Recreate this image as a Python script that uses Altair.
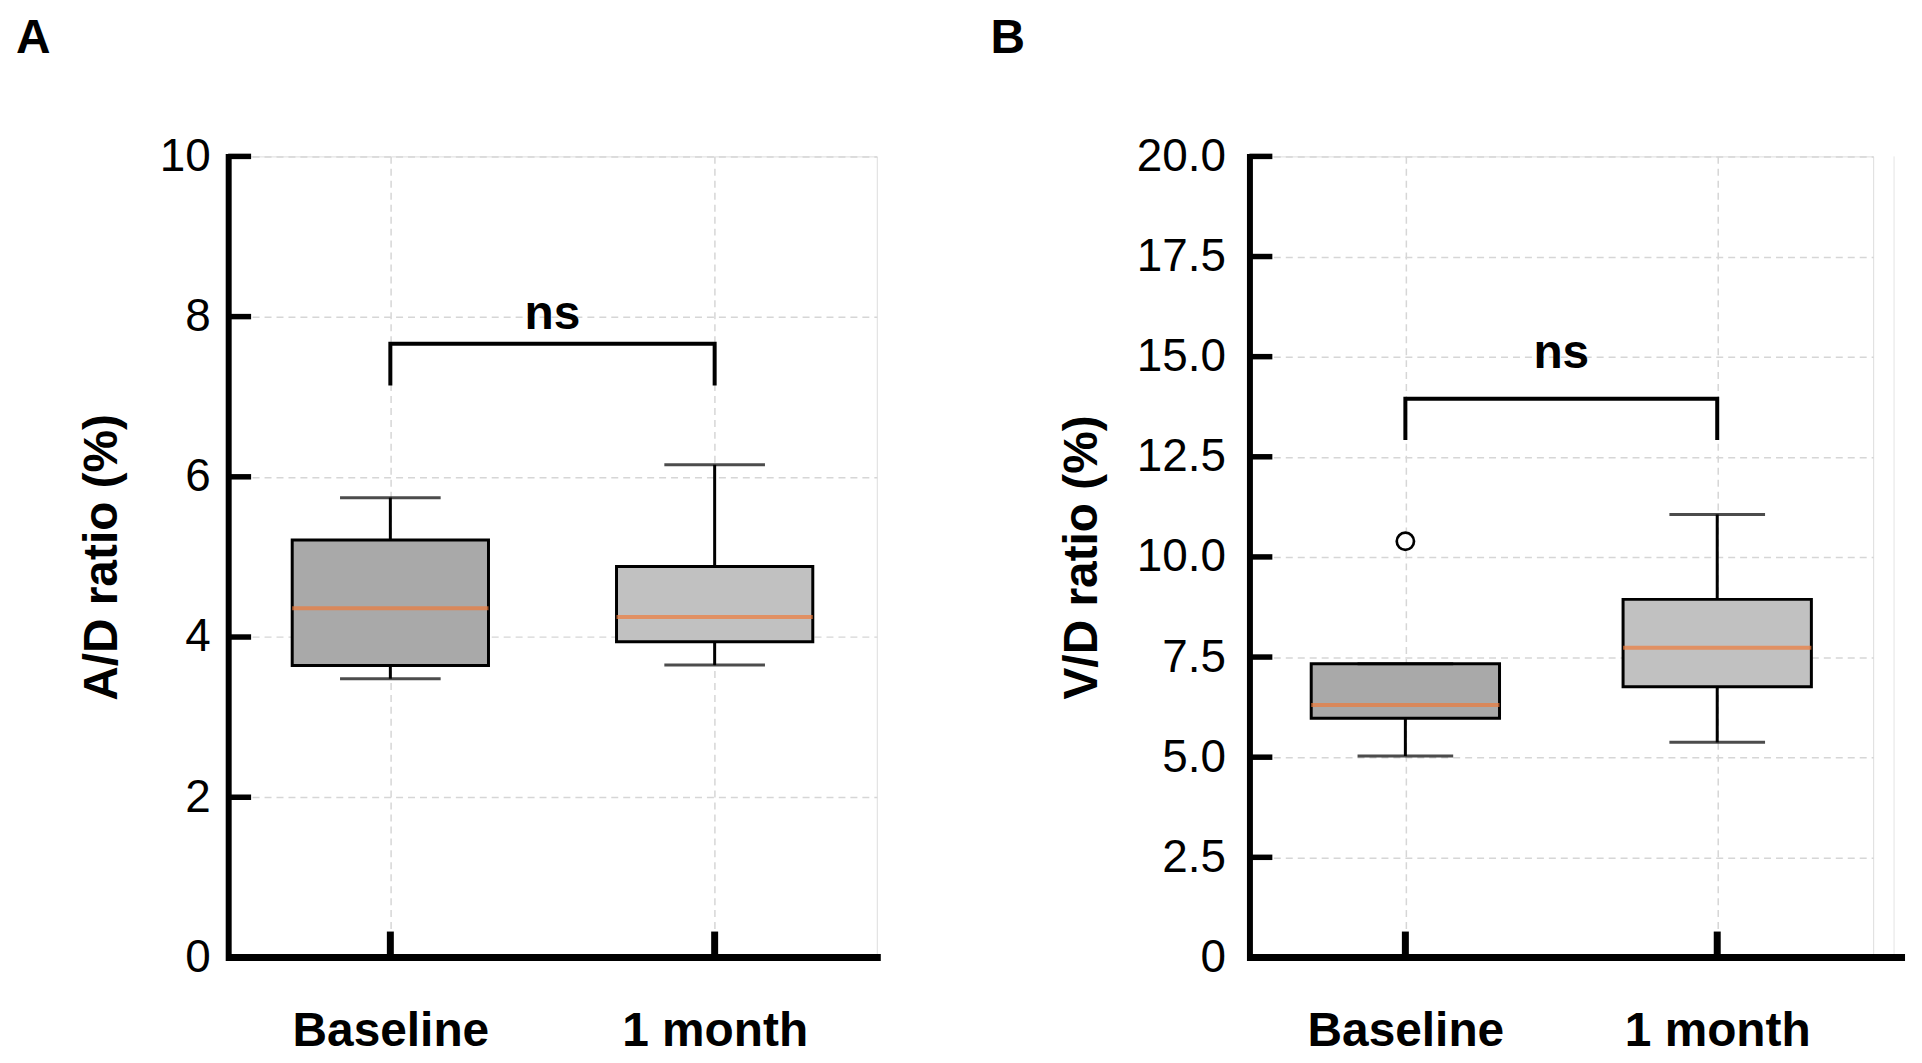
import pandas as pd
import altair as alt

grupos = ["Baseline", "1 month"]
cores_caixa = ["#a9a9a9", "#c1c1c1"]
cor_mediana = "#ee7b3b"

# painel A - A/D ratio (%)
ad_min = [3.48, 3.65]
ad_q1 = [3.645, 3.94]
ad_med = [4.36, 4.25]
ad_q3 = [5.21, 4.88]
ad_max = [5.74, 6.15]
ad_ticks = [0, 2, 4, 6, 8, 10]
ad_colchete = [7.66, 7.14]   # topo, pe
ad_ns = [7.84]

# painel B - V/D ratio (%)
vd_min = [5.03, 5.37]
vd_q1 = [5.97, 6.76]
vd_med = [6.30, 7.73]
vd_q3 = [7.33, 8.94]
vd_max = [7.33, 11.06]
vd_out_grupo = ["Baseline"]
vd_out_valor = [10.39]
vd_ticks = [0, 2.5, 5, 7.5, 10, 12.5, 15, 17.5, 20]
vd_colchete = [13.95, 12.92]
vd_ns = [14.72]

FONTE = "Liberation Sans"
ALTURA = 804


def painel(letra, titulo, mins, q1s, meds, q3s, maxs, ticks, ymax, colchete, ns,
           largura, box_w, cap_w, lab_pad, tit_pad, label_expr,
           out_grupo=None, out_valor=None, ext_eixo=4, letra_x=-213, moldura=False):
    """Um painel de boxplot com colchete 'ns'."""
    df = pd.DataFrame({
        "grupo": grupos, "minimo": mins, "q1": q1s,
        "mediana": meds, "q3": q3s, "maximo": maxs,
    })
    H = ALTURA
    W = largura

    eixo_y = alt.Axis(
        values=ticks, title=titulo, titleFont=FONTE, titleFontSize=48,
        titleFontWeight="bold", titleColor="black", titlePadding=tit_pad,
        labelFont=FONTE, labelFontSize=46, labelColor="black",
        labelPadding=lab_pad, labelExpr=label_expr, ticks=False,
        domain=True, domainColor="black", domainWidth=6, domainCap="square",
        grid=True, gridColor="#d6d6d6", gridDash=[7, 5], gridWidth=1.5,
    )
    escala_y = alt.Scale(domain=[0, ymax], nice=False, zero=True)
    eixo_x = alt.Axis(
        title=None, domain=False, ticks=False, labelAngle=0, labelLimit=0,
        labelFont=FONTE, labelFontSize=48, labelFontWeight="bold",
        labelColor="black", labelPadding=50,
        grid=True, gridColor="#d6d6d6", gridDash=[7, 5], gridWidth=1.5,
    )
    x_enc = alt.X("grupo:N", sort=grupos,
                  scale=alt.Scale(type="point", padding=0.5), axis=eixo_x)

    def Y(campo):
        return alt.Y(campo, scale=escala_y, axis=eixo_y)

    base = alt.Chart(df)

    caixa = base.mark_bar(size=box_w, stroke="black", strokeWidth=3).encode(
        x=x_enc, y=Y("q1:Q"), y2="q3:Q",
        color=alt.Color("grupo:N", scale=alt.Scale(domain=grupos, range=cores_caixa),
                        legend=None),
    )
    bigode_inf = base.mark_rule(color="black", strokeWidth=3).encode(
        x=x_enc, y=Y("minimo:Q"), y2="q1:Q")
    bigode_sup = base.mark_rule(color="black", strokeWidth=3).encode(
        x=x_enc, y=Y("q3:Q"), y2="maximo:Q")
    cap_inf = base.mark_tick(color="black", size=cap_w, thickness=3,
                             orient="horizontal").encode(x=x_enc, y=Y("minimo:Q"))
    cap_sup = base.mark_tick(color="black", size=cap_w, thickness=3,
                             orient="horizontal").encode(x=x_enc, y=Y("maximo:Q"))
    mediana = base.mark_tick(color=cor_mediana, size=box_w, thickness=4,
                             orient="horizontal").encode(x=x_enc, y=Y("mediana:Q"))

    # colchete de significancia
    df_col = pd.DataFrame({
        "grupo": [grupos[0], grupos[0], grupos[1], grupos[1]],
        "y": [colchete[1], colchete[0], colchete[0], colchete[1]],
        "ordem": [0, 1, 2, 3],
    })
    linha_col = alt.Chart(df_col).mark_line(
        color="black", strokeWidth=4, strokeJoin="miter", strokeCap="butt"
    ).encode(x=x_enc, y=Y("y:Q"), order="ordem:O")

    texto_ns = alt.Chart(pd.DataFrame({"y": ns})).mark_text(
        text="ns", font=FONTE, fontSize=48, fontWeight="bold",
        align="center", baseline="alphabetic", color="black",
    ).encode(x=alt.value(W / 2), y=Y("y:Q"))

    # ticks para dentro
    df_ticks = pd.DataFrame({"v": ticks})
    ticks_y = alt.Chart(df_ticks).mark_rule(color="black", strokeWidth=5.5).encode(
        y=Y("v:Q"), x=alt.value(0), x2=alt.value(23))
    ticks_x = base.mark_rule(color="black", strokeWidth=7).encode(
        x=x_enc, y=alt.value(H), y2=alt.value(H - 26))

    um = pd.DataFrame({"a": [0]})
    linha_x = alt.Chart(um).mark_rule(color="black", strokeWidth=7).encode(
        x=alt.value(0), x2=alt.value(W + ext_eixo), y=alt.value(H))

    rotulo = alt.Chart(um).mark_text(
        text=letra, font=FONTE, fontSize=48, fontWeight="bold",
        align="left", baseline="alphabetic", color="black",
    ).encode(x=alt.value(letra_x), y=alt.value(-104))

    camadas = [caixa, bigode_inf, bigode_sup, cap_inf, cap_sup, mediana]

    if out_grupo:
        df_out = pd.DataFrame({"grupo": out_grupo, "v": out_valor})
        pontos = alt.Chart(df_out).mark_point(
            shape="circle", size=300, fill="white", stroke="black",
            strokeWidth=2.7, opacity=1, fillOpacity=1,
        ).encode(x=x_enc, y=Y("v:Q"))
        camadas.append(pontos)

    if moldura:
        borda = alt.Chart(um).mark_rule(color="#e4e4e4", strokeWidth=1).encode(
            x=alt.value(W + 21), y=alt.value(0), y2=alt.value(H))
        camadas.append(borda)

    camadas += [linha_col, texto_ns, ticks_y, ticks_x, linha_x, rotulo]

    return alt.layer(*camadas).properties(width=W, height=H)


painel_a = painel(
    "A", "A/D ratio (%)", ad_min, ad_q1, ad_med, ad_q3, ad_max, ad_ticks, 10,
    ad_colchete, ad_ns, largura=651, box_w=197, cap_w=101, lab_pad=18, tit_pad=33,
    label_expr="format(datum.value, 'd')", ext_eixo=4, letra_x=-213,
)

painel_b = painel(
    "B", "V/D ratio (%)", vd_min, vd_q1, vd_med, vd_q3, vd_max, vd_ticks, 20,
    vd_colchete, vd_ns, largura=626, box_w=189, cap_w=96, lab_pad=24, tit_pad=30,
    label_expr="datum.value == 0 ? '0' : format(datum.value, '.1f')",
    out_grupo=vd_out_grupo, out_valor=vd_out_valor, ext_eixo=32, letra_x=-260,
    moldura=True,
)

grafico = (
    alt.hconcat(painel_a, painel_b, spacing=105)
    .properties(padding={"left": 7, "top": 4, "right": 5, "bottom": 5})
    .configure_view(strokeWidth=0)
    .configure(background="white")
)

grafico.save("out.html", embed_options={"renderer": "svg", "actions": False})
